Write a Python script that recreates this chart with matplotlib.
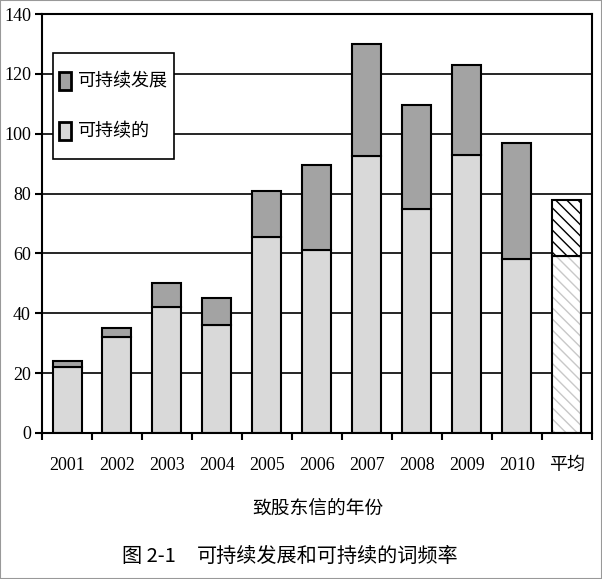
import matplotlib.pyplot as plt
import matplotlib.patches as mpatches
from matplotlib.legend_handler import HandlerPatch
import numpy as np

plt.rcParams['font.family'] = ['Liberation Serif', 'Noto Sans CJK SC']
plt.rcParams['hatch.linewidth'] = 1.0

# data
years = ['2001', '2002', '2003', '2004', '2005', '2006', '2007', '2008', '2009', '2010', '平均']
sustainable = [22, 32, 42, 36, 65.5, 61, 92.5, 75, 93, 58, 59]        # 可持续的
total = [24, 35, 50, 45, 81, 89.5, 130, 109.5, 123, 97, 78]          # top of stack
development = [t - s for t, s in zip(total, sustainable)]            # 可持续发展

x = np.arange(len(years))
w = 0.58

fig = plt.figure(figsize=(6.02, 5.79), dpi=100)
ax = fig.add_axes([0.0698, 0.2522, 0.9132, 0.7236])

ax.set_axisbelow(True)
ax.yaxis.grid(True, color='black', linewidth=1.2)

ax.bar(x[:-1], sustainable[:-1], w, color='#d9d9d9', edgecolor='black', linewidth=1.5)
ax.bar(x[:-1], development[:-1], w, bottom=sustainable[:-1], color='#a3a3a3',
       edgecolor='black', linewidth=1.5)

# average bar, hatched
ax.bar(x[-1], sustainable[-1], w, color='white', edgecolor='#c8c8c8', hatch='\\\\\\', linewidth=0)
ax.bar(x[-1], sustainable[-1], w, color='none', edgecolor='black', linewidth=1.5)
ax.bar(x[-1], development[-1], w, bottom=sustainable[-1], color='white', edgecolor='black',
       hatch='\\\\\\', linewidth=1.5)

ax.set_xlim(-0.5, len(years) - 0.5)
ax.set_ylim(0, 140)
ax.set_yticks(range(0, 141, 20))
ax.set_xticks(x)
ax.set_xticklabels(years)
ax.set_xticks(np.arange(-0.5, len(years), 1), minor=True)
ax.tick_params(axis='x', which='major', length=0, pad=17, labelsize=13)
ax.tick_params(axis='x', which='minor', length=5, width=1.5, direction='out')
ax.tick_params(axis='y', length=5, width=1.5, labelsize=13, pad=3)
for s in ax.spines.values():
    s.set_linewidth(1.5)


# small upright swatch, vertically centred in a tall legend row
def narrow_patch(legend, orig_handle, xdescent, ydescent, width, height, fontsize):
    h = fontsize * 1.0
    return mpatches.Rectangle((-xdescent, -ydescent + (height - h) / 2), width, h)


handles = [mpatches.Patch(facecolor='#a3a3a3', edgecolor='black', linewidth=2, label='可持续发展'),
           mpatches.Patch(facecolor='#d9d9d9', edgecolor='black', linewidth=2, label='可持续的')]
leg = ax.legend(handles=handles, loc='upper left', bbox_to_anchor=(0.02, 0.907),
                borderaxespad=0, fancybox=False, framealpha=1, edgecolor='black',
                handlelength=0.62, handleheight=3.35, labelspacing=0.35, borderpad=0.35,
                handletextpad=0.4, handler_map={mpatches.Patch: HandlerPatch(patch_func=narrow_patch)},
                prop={'family': ['Noto Sans CJK SC'], 'size': 13})
leg.get_frame().set_linewidth(1.2)

fig.text(318 / 602, 1 - 508 / 579, '致股东信的年份', ha='center', va='center', fontsize=13.5,
         family=['Noto Sans CJK SC'])
fig.text(122 / 602, 1 - 556 / 579, '图 2-1', ha='left', va='center',
         fontsize=14.5, family=['Noto Sans CJK SC'])
fig.text(197 / 602, 1 - 556 / 579, '可持续发展和可持续的词频率', ha='left', va='center',
         fontsize=14.5, family=['Noto Sans CJK SC'])

fig.patches.append(mpatches.Rectangle((0, 0), 1, 1, transform=fig.transFigure, fill=False,
                                      edgecolor='#999999', linewidth=1.5))

fig.savefig('out.png', dpi=100)
